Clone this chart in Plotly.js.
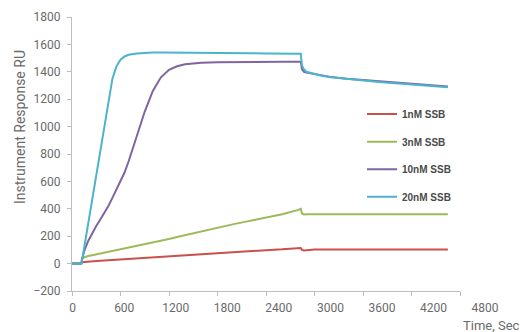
<!DOCTYPE html>
<html>
<head>
<meta charset="utf-8">
<script src="https://cdn.plot.ly/plotly-3.0.1.min.js"></script>
<style>
html,body{margin:0;padding:0;background:#fff;}
#chart{width:524px;height:332px;}
</style>
</head>
<body>
<div id="chart"></div>
<script>
// Time, s
const times = [0,115,125,150,200,250,300,350,400,450,500,550,600,650,700,800,900,1000,1100,1200,1300,1400,1600,1800,2000,2200,2400,2600,2800,2830,2845,2870,2900,2950,3000,3100,3200,3400,3600,3800,4000,4200,4400,4650];
// Response RU
const ssb1nM  = [0,0,10,12,15,17,19,21,23,25,27,29,31,33,35,39,43,47,51,55,59,63,70,77,84,91,98,104,111,114,100,96,98,101,103,103,103,103,103,103,103,103,103,103];
const ssb3nM  = [0,0,40,46,55,61,67,74,80,86,92,99,105,111,117,130,142,155,167,180,194,208,235,262,288,312,336,360,392,400,366,358,360,361,361,361,361,361,361,361,361,361,361,361];
const ssb10nM = [0,0,30,90,165,225,275,322,370,420,480,540,600,665,745,935,1110,1260,1360,1415,1440,1455,1466,1470,1472,1472,1472,1473,1473,1473,1420,1400,1394,1388,1384,1372,1363,1350,1340,1330,1320,1311,1302,1293];
const ssb20nM = [0,0,25,115,295,475,655,835,1015,1190,1350,1440,1488,1512,1524,1534,1538,1540,1540,1540,1539,1539,1538,1537,1536,1535,1534,1533,1533,1532,1445,1418,1400,1392,1385,1370,1360,1347,1336,1326,1316,1306,1297,1288];

const seriesNames = ['1nM SSB','3nM SSB','10nM SSB','20nM SSB'];
const seriesData = [ssb1nM, ssb3nM, ssb10nM, ssb20nM];
const seriesColors = ['#c9504d','#9bbb59','#8064a2','#4bb4cc'];
const legendIds = ['legend','legend2','legend3','legend4'];
const legendY = [114, 141.7, 169.3, 196.7];

const xTicks = [0,600,1200,1800,2400,3000,3600,4200,4800];
const yTicks = [-200,0,200,400,600,800,1000,1200,1400,1600,1800];

const W = 524, H = 332;
const L = 72, R = 14, T = 17, B = 41;
const PW = W - L - R, PH = H - T - B;
const px2x = p => (p - L) / PW;
const px2y = p => (H - B - p) / PH;

const traces = seriesData.map((d,i)=>({
  type:'scatter', mode:'lines', x:times, y:d, name:seriesNames[i],
  line:{color:seriesColors[i], width:2}, legend:legendIds[i]
}));
// empty carrier so the label axis is drawn
traces.push({type:'scatter', mode:'lines', x:[], y:[], xaxis:'x2', yaxis:'y', showlegend:false, hoverinfo:'skip'});

const tickFont = {family:'Roboto, sans-serif', size:12, color:'#6a6a6a'};
const legendFont = {family:'Liberation Sans, Arial, sans-serif', size:10, color:'#4a4a4a', weight:'bold'};

const layout = {
  width:W, height:H,
  margin:{l:L, r:R, t:T, b:B, autoexpand:false},
  paper_bgcolor:'#fff', plot_bgcolor:'rgba(0,0,0,0)',
  showlegend:true,
  xaxis:{domain:[0,px2x(460)], range:[0,4800], tickvals:xTicks, showticklabels:false,
         ticks:'outside', ticklen:4, tickcolor:'#bdbdbd', showline:true, linecolor:'#bdbdbd', linewidth:1,
         showgrid:false, zeroline:false, fixedrange:true},
  xaxis2:{domain:[px2x(72.7),px2x(485)], anchor:'y', range:[0,4800], tickvals:xTicks, showticklabels:true,
          ticks:'', showline:false, showgrid:false, zeroline:false, tickfont:tickFont, ticklabelstandoff:8},
  yaxis:{range:[-200,1800], tickvals:yTicks, ticks:'outside', ticklen:4, tickcolor:'#bdbdbd',
         showline:true, linecolor:'#bdbdbd', linewidth:1, showgrid:false, zeroline:false,
         tickfont:tickFont, ticklabelstandoff:4},
  annotations:[
    {text:'Instrument Response RU', xref:'paper', yref:'paper', x:px2x(20), y:px2y(127), xanchor:'center', yanchor:'middle',
     textangle:-90, showarrow:false, font:{family:'Roboto, sans-serif', size:14, color:'#6a6a6a'}},
    {text:'Time, Sec', xref:'paper', yref:'paper', x:px2x(522), y:px2y(325), xanchor:'right', yanchor:'middle',
     showarrow:false, font:{family:'Roboto, sans-serif', size:13, color:'#6a6a6a'}}
  ]
};
legendIds.forEach((id,i)=>{
  layout[id] = {x:px2x(362), y:px2y(legendY[i]), xanchor:'left', yanchor:'middle',
    bgcolor:'rgba(0,0,0,0)', borderwidth:0, font:legendFont, itemclick:false, itemdoubleclick:false};
});

Plotly.newPlot('chart', traces, layout, {displayModeBar:false, staticPlot:true});
</script>
</body>
</html>
